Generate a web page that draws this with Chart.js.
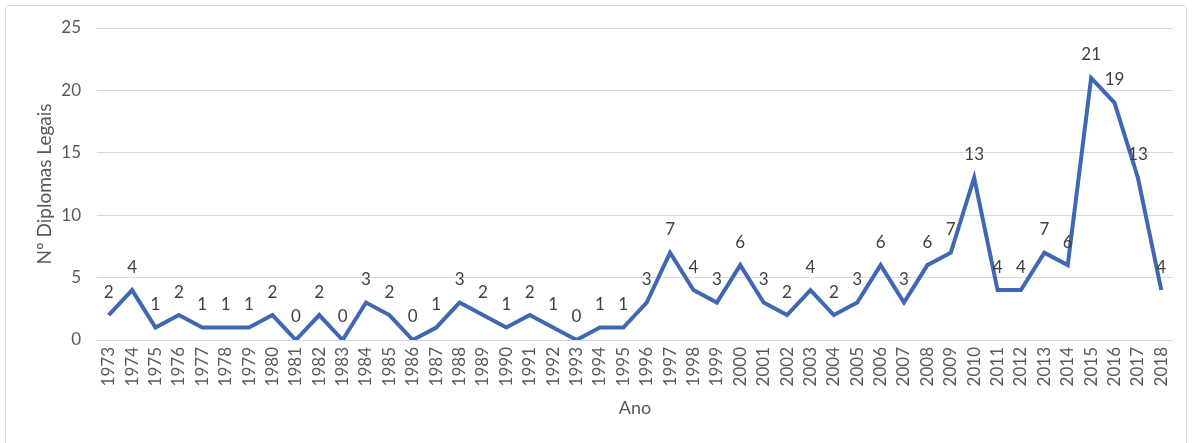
<!DOCTYPE html>
<html>
<head>
<meta charset="utf-8">
<script src="https://cdn.jsdelivr.net/npm/chart.js@4/dist/chart.umd.min.js"></script>
<style>
  html, body { margin: 0; padding: 0; background: #fff; }
  #wrap { position: relative; width: 1194px; height: 443px; }
  #frame { position: absolute; left: 5px; top: 5px; width: 1180px; height: 450px;
           border: 1px solid #d9d9d9; border-radius: 3px; pointer-events: none; }
</style>
</head>
<body>
<div id="wrap">
  <canvas id="diplomasChart" width="1194" height="443"></canvas>
  <div id="frame"></div>
</div>
<script>
const years = [
    '1973', '1974', '1975', '1976', '1977', '1978', '1979', '1980', '1981', '1982',
    '1983', '1984', '1985', '1986', '1987', '1988', '1989', '1990', '1991', '1992',
    '1993', '1994', '1995', '1996', '1997', '1998', '1999', '2000', '2001', '2002',
    '2003', '2004', '2005', '2006', '2007', '2008', '2009', '2010', '2011', '2012',
    '2013', '2014', '2015', '2016', '2017', '2018'
];
const diplomas = [
    2, 4, 1, 2, 1, 1, 1, 2, 0, 2,
    0, 3, 2, 0, 1, 3, 2, 1, 2, 1,
    0, 1, 1, 3, 7, 4, 3, 6, 3, 2,
    4, 2, 3, 6, 3, 6, 7, 13, 4, 4,
    7, 6, 21, 19, 13, 4
];
const yTicks = [0, 5, 10, 15, 20, 25];

const textColor = '#595959';
const fontFamily = 'Lato, "Open Sans", sans-serif';

// draws the value above each point (Excel style data labels)
const valueLabels = {
    id: 'valueLabels',
    afterDatasetsDraw(chart) {
        const { ctx } = chart;
        const meta = chart.getDatasetMeta(0);
        ctx.save();
        ctx.font = `17px ${fontFamily}`;
        ctx.fillStyle = '#404040';
        ctx.textAlign = 'center';
        ctx.textBaseline = 'middle';
        meta.data.forEach((pt, i) => {
            ctx.fillText(String(diplomas[i]), pt.x, pt.y - 23);
        });
        ctx.restore();
    },
};

const ctx = document.getElementById('diplomasChart').getContext('2d');
const diplomasChart = new Chart(ctx, {
    type: 'line',
    data: {
        labels: years,
        datasets: [{
            label: 'Nº Diplomas Legais',
            data: diplomas,
            borderColor: '#4068b2',
            borderWidth: 4,
            pointRadius: 0,
            tension: 0,
            fill: false,
        }],
    },
    options: {
        responsive: false,
        animation: false,
        layout: { padding: { left: 30, right: 21, top: 28, bottom: 0 } },
        plugins: {
            legend: { display: false },
            tooltip: { enabled: false },
        },
        scales: {
            x: {
                offset: true,
                grid: { display: false, drawTicks: false },
                border: { display: false },
                ticks: {
                    autoSkip: false,
                    minRotation: 90,
                    maxRotation: 90,
                    padding: 7,
                    color: textColor,
                    font: { family: fontFamily, size: 17 },
                },
                title: {
                    display: true,
                    text: 'Ano',
                    color: textColor,
                    font: { family: fontFamily, size: 18 },
                    padding: { top: 0, bottom: 24 },
                },
                afterFit: (scale) => { scale.height = 103; },
            },
            y: {
                min: 0,
                max: 25,
                afterBuildTicks: (scale) => { scale.ticks = yTicks.map(v => ({ value: v })); },
                grid: { color: '#d9d9d9', lineWidth: 1, drawTicks: false },
                border: { display: false },
                ticks: {
                    padding: 16,
                    color: textColor,
                    font: { family: fontFamily, size: 17 },
                },
                title: {
                    display: true,
                    text: 'Nº Diplomas Legais',
                    color: textColor,
                    font: { family: fontFamily, size: 19 },
                    padding: { top: 3, bottom: 0 },
                },
                afterFit: (scale) => { scale.width = 67; },
            },
        },
    },
    plugins: [valueLabels],
});
</script>
</body>
</html>
